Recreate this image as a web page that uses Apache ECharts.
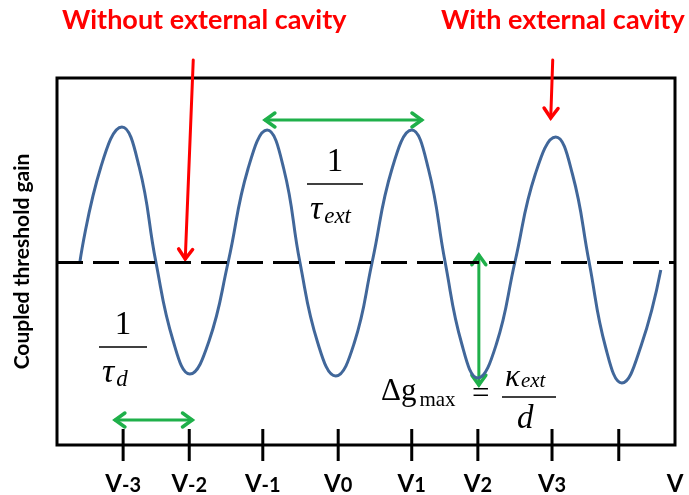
<!DOCTYPE html>
<html>
<head>
<meta charset="utf-8">
<script src="https://cdn.jsdelivr.net/npm/echarts@6/dist/echarts.min.js"></script>
<style>
  html, body { margin: 0; padding: 0; background: #fff; }
  #chart { width: 689px; height: 495px; }
</style>
</head>
<body>
<div id="chart"></div>
<script>
// Longitudinal modes along the voltage axis
const modeSubscripts = ['-3', '-2', '-1', '0', '1', '2', '3', ''];
const modePositions = [1.07, 2.14, 3.33, 4.55, 5.74, 6.81, 8.01, 9.09];

// Coupled threshold gain: peaks, troughs, threshold crossings and mid-slope points
const gainX = [0.37, 0.71, 1.05, 1.33, 1.60, 1.88, 2.15, 2.46, 2.77, 3.09, 3.40, 3.67, 3.93, 4.22, 4.51,
               4.81, 5.10, 5.42, 5.74, 6.01, 6.28, 6.55, 6.81, 7.11, 7.41, 7.74, 8.07, 8.34, 8.61, 8.88,
               9.14, 9.45, 9.77];
const gainY = [0, 0.95, 1.35, 0.95, 0, -0.79, -1.12, -0.79, 0, 0.93, 1.32, 0.93, 0, -0.81, -1.14,
               -0.81, 0, 0.93, 1.32, 0.93, 0, -0.82, -1.16, -0.82, 0, 0.88, 1.25, 0.88, 0, -0.86,
               -1.21, -0.84, -0.08];

const thresholdLevel = 0;
const xRange = [0, 10];
const yRange = [-1.83, 1.84];

const SERIF = '"Liberation Serif", "DejaVu Serif", serif';
const SANS = 'Lato, "Open Sans", sans-serif';

const chart = echarts.init(document.getElementById('chart'), null, { renderer: 'canvas' });

const tickLabel = (sub) => sub === '' ? '' : '{v|V}{s|' + sub + '}';

chart.setOption({
  animation: false,
  backgroundColor: '#fff',
  grid: {
    left: 57, right: 14, top: 78, bottom: 50,
    show: true, borderColor: '#000', borderWidth: 3, backgroundColor: 'transparent'
  },
  xAxis: {
    type: 'value', min: xRange[0], max: xRange[1],
    axisLine: { show: false }, axisTick: { show: false },
    axisLabel: { show: false }, splitLine: { show: false }
  },
  yAxis: {
    type: 'value', min: yRange[0], max: yRange[1],
    axisLine: { show: false }, axisTick: { show: false },
    axisLabel: { show: false }, splitLine: { show: false }
  },
  series: [
    {
      type: 'line',
      data: gainX.map((x, i) => [x, gainY[i]]),
      smooth: 0.45,
      showSymbol: false,
      lineStyle: { color: '#41679a', width: 3 },
      z: 3,
      markLine: {
        silent: true,
        symbol: ['none', 'none'],
        label: { show: false },
        lineStyle: { color: '#000', width: 3, type: [26, 10] },
        data: [{ yAxis: thresholdLevel }]
      }
    },
    {
      // mode ticks crossing the bottom frame, with their labels
      type: 'custom',
      data: modePositions.map((x, i) => [x, i]),
      renderItem: function (params, api) {
        const p = api.coord([api.value(0), yRange[0]]);
        const sub = modeSubscripts[api.value(1)];
        return {
          type: 'group',
          children: [
            { type: 'line', shape: { x1: p[0], y1: p[1] - 16, x2: p[0], y2: p[1] + 16 },
              style: { stroke: '#000', lineWidth: 3 } },
            { type: 'text', x: p[0], y: p[1] + 39,
              style: {
                text: tickLabel(sub), align: 'center', verticalAlign: 'middle',
                rich: {
                  v: { fontFamily: SANS, fontWeight: 'bold', fontSize: 24, fill: '#000' },
                  s: { fontFamily: SANS, fontWeight: 'bold', fontSize: 20, fill: '#000', padding: [3, 0, 0, 0] }
                }
              } }
          ]
        };
      },
      z: 5
    }
  ]
});

// ---- annotations -------------------------------------------------------
const px = (x, y) => chart.convertToPixel({ xAxisIndex: 0, yAxisIndex: 0 }, [x, y]);

function arrow(x1, y1, x2, y2, color, startHead, endHead) {
  const children = [{
    type: 'line', shape: { x1, y1, x2, y2 },
    style: { stroke: color, lineWidth: 3, lineCap: 'round' }
  }];
  const head = (tx, ty, fx, fy) => {
    const a = Math.atan2(ty - fy, tx - fx);
    const L = 12, w = 0.62;
    children.push({
      type: 'polyline',
      shape: { points: [
        [tx - L * Math.cos(a - w), ty - L * Math.sin(a - w)],
        [tx, ty],
        [tx - L * Math.cos(a + w), ty - L * Math.sin(a + w)]
      ] },
      style: { stroke: color, lineWidth: 3.5, fill: null, lineJoin: 'miter', lineCap: 'round' }
    });
  };
  if (endHead) head(x2, y2, x1, y1);
  if (startHead) head(x1, y1, x2, y2);
  return { type: 'group', children, z: 10 };
}

const GREEN = '#1fb04a';
const RED = '#ff0000';

const peakLeft = px(gainX[10], gainY[10]);
const peakRight = px(gainX[18], gainY[18]);
const troughV2 = px(gainX[22], gainY[22]);
const peakV3 = px(gainX[26], gainY[26]);
const thr = px(0, thresholdLevel);
const tickV3m = px(modePositions[0], yRange[0]);
const tickV2m = px(modePositions[1], yRange[0]);
const frameTop = px(0, yRange[1])[1];
const frameMidY = (frameTop + tickV3m[1]) / 2;

function fraction(cx, topY, num, denom, sub, barW, subSize) {
  return {
    type: 'group', z: 8,
    children: [
      { type: 'text', x: cx, y: topY, style: { text: num, font: '33px ' + SERIF, fill: '#000', align: 'center', verticalAlign: 'middle' } },
      { type: 'line', shape: { x1: cx - barW / 2, y1: topY + 22, x2: cx + barW / 2, y2: topY + 22 }, style: { stroke: '#000', lineWidth: 1.5 } },
      { type: 'text', x: cx - barW / 2 + 3, y: topY + 48,
        style: { text: '{t|' + denom + '}{s|' + sub + '}', align: 'left', verticalAlign: 'middle',
          rich: {
            t: { fontFamily: SERIF, fontStyle: 'italic', fontSize: 34, fill: '#000' },
            s: { fontFamily: SERIF, fontStyle: 'italic', fontSize: subSize, fill: '#000', padding: [14, 0, 0, 2] }
          } } }
    ]
  };
}

chart.setOption({
  graphic: [
    { type: 'text', left: 62, top: 7, style: { text: 'Without external cavity', font: 'bold 27px ' + SANS, fill: RED } },
    { type: 'text', left: 441, top: 7, style: { text: 'With external cavity', font: 'bold 27px ' + SANS, fill: RED } },
    { type: 'text', x: 22, y: frameMidY, rotation: Math.PI / 2,
      style: { text: 'Coupled threshold gain', font: 'bold 21px ' + SANS, fill: '#000', align: 'center', verticalAlign: 'middle' } },
    { type: 'text', x: px(xRange[1], yRange[0])[0], y: px(xRange[1], yRange[0])[1] + 39,
      style: { text: 'V', font: 'bold 24px ' + SANS, fill: '#000', align: 'center', verticalAlign: 'middle' } },

    // period between neighbouring modes
    arrow(peakLeft[0] - 2, peakLeft[1] - 10, peakRight[0] + 10, peakLeft[1] - 10, GREEN, true, true),
    // maximum gain difference
    arrow(troughV2[0] + 1, thr[1] - 7, troughV2[0] + 1, troughV2[1] + 7, GREEN, true, true),
    // mode spacing without external cavity
    arrow(tickV3m[0] - 8, tickV3m[1] - 25, tickV2m[0] + 3, tickV3m[1] - 25, GREEN, true, true),

    // pointers from the titles
    arrow(tickV2m[0] + 4, frameTop - 18, tickV2m[0] - 4, thr[1] - 3, RED, false, true),
    arrow(peakV3[0] - 3, frameTop - 18, peakV3[0] - 5, peakV3[1] - 19, RED, false, true),

    fraction(335, 162, '1', 'τ', 'ext', 56, 23),
    fraction(123, 325, '1', 'τ', 'd', 48, 23),

    // Δg_max = κ_ext / d
    { type: 'text', left: 381, top: 376, z: 8,
      style: { text: '{a|Δg}{b|max}', rich: {
        a: { fontFamily: SERIF, fontSize: 31, fill: '#000' },
        b: { fontFamily: SERIF, fontSize: 21, fill: '#000', padding: [18, 0, 0, 3] } } } },
    { type: 'text', left: 472, top: 379, z: 8, style: { text: '=', font: '31px ' + SERIF, fill: '#000' } },
    { type: 'text', left: 505, top: 362, z: 8,
      style: { text: '{a|κ}{b|ext}', rich: {
        a: { fontFamily: SERIF, fontStyle: 'italic', fontSize: 31, fill: '#000' },
        b: { fontFamily: SERIF, fontStyle: 'italic', fontSize: 21, fill: '#000', padding: [8, 0, 0, 1] } } } },
    { type: 'line', z: 8, shape: { x1: 502, y1: 397, x2: 556, y2: 397 }, style: { stroke: '#000', lineWidth: 1.5 } },
    { type: 'text', left: 517, top: 403, z: 8, style: { text: 'd', font: 'italic 33px ' + SERIF, fill: '#000' } }
  ]
});
</script>
</body>
</html>
